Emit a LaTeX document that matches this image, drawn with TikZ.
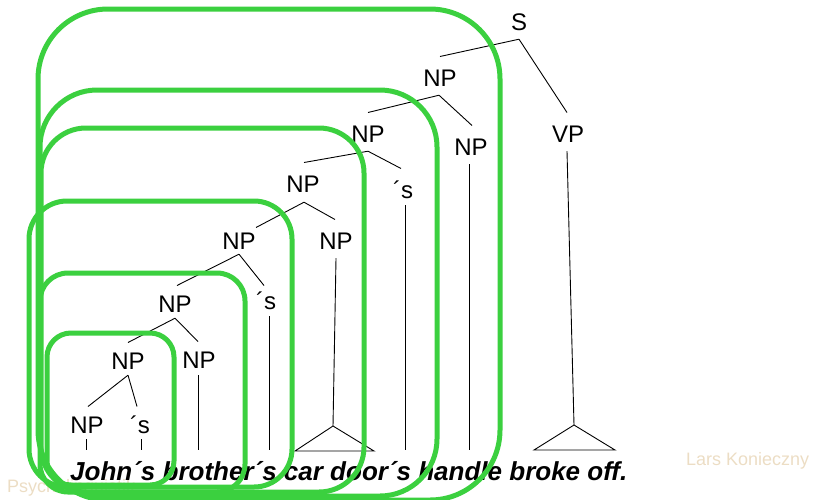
\documentclass[tikz,border=0pt]{standalone}
\usepackage{fontspec}
\setmainfont{Liberation Sans}
\newcommand\lblfont{\fontsize{24}{28}\selectfont}
\newcommand\sentfont{\fontsize{26}{30}\selectfont\bfseries\itshape}
\newcommand\markfont{\fontsize{18}{22}\selectfont}
\definecolor{boxgreen}{RGB}{59,208,63}
\definecolor{marktan}{RGB}{236,221,196}
\tikzset{
  lbl/.style={font=\lblfont, inner xsep=0pt, inner ysep=9pt, text height=17.3pt, text depth=0pt, anchor=base},
  branch/.style={draw=black, line width=0.9pt},
  gbox/.style={draw=boxgreen, line width=5pt},
  wmark/.style={font=\markfont, text=marktan, inner sep=0pt, anchor=base west}
}
\begin{document}
\begin{tikzpicture}[x=1pt,y=-1pt]
\useasboundingbox (0,0) rectangle (818,499);
% watermarks
\node[wmark] (psy) at (7,492) {Psycholinguistik};
\node[wmark] (lars) at (686,465) {Lars Konieczny};
% tree labels
\node[lbl] (S) at (519,30) {S};
\node[lbl] (NP1) at (440,86) {NP};
\node[lbl] (VP) at (568,142) {VP};
\node[lbl] (NP2) at (368,142) {NP};
\node[lbl] (NP3) at (471,155) {NP};
\node[lbl] (s2) at (403,198) {´s};
\node[lbl] (NP4) at (303,192) {NP};
\node[lbl] (NP5) at (239,249) {NP};
\node[lbl] (NP6) at (336,249) {NP};
\node[lbl] (s5) at (266,309) {´s};
\node[lbl] (NP7) at (175,312) {NP};
\node[lbl] (NP8) at (128,369) {NP};
\node[lbl] (NP9) at (199,368) {NP};
\node[lbl] (NP10) at (87,433) {NP};
\node[lbl] (s8) at (140,433) {´s};
% sentence
\node[font=\sentfont, inner sep=0pt, anchor=base west] (sent) at (70,480) {John´s brother´s car door´s handle broke off.};
% end coordinates
\coordinate (vpApex) at (574,425);
\coordinate (vpL) at (534,450);
\coordinate (vpR) at (615,450);
\coordinate (np6Apex) at (333,426);
\coordinate (np6L) at (295,451);
\coordinate (np6R) at (374,451);
\coordinate (np3end) at (469,450);
\coordinate (s2end) at (405,450);
\coordinate (s5end) at (269,450);
\coordinate (np9end) at (198,450);
\coordinate (np10end) at (86,450);
\coordinate (s8end) at (141,450);
% branches
\draw[branch] (S.south) -- ([yshift=3pt]NP1.north);
\draw[branch] (S.south) -- ([xshift=-1pt,yshift=3pt]VP.north);
\draw[branch] ([xshift=-1pt]NP1.south) -- ([yshift=3pt]NP2.north);
\draw[branch] ([xshift=-1pt]NP1.south) -- ([xshift=1pt,yshift=3pt]NP3.north);
\draw[branch] (NP2.south) -- ([xshift=1pt,yshift=3pt]NP4.north);
\draw[branch] (NP2.south) -- ([xshift=-2pt,yshift=3pt]s2.north);
\draw[branch] ([xshift=1pt,yshift=-1pt]NP4.south) -- ([xshift=17pt,yshift=-5pt]NP5.north);
\draw[branch] ([xshift=1pt,yshift=-1pt]NP4.south) -- ([xshift=-1pt,yshift=3pt]NP6.north);
\draw[branch] ([yshift=4pt]NP5.south) -- ([xshift=2pt]NP7.north);
\draw[branch] ([yshift=4pt]NP5.south) -- ([xshift=-2pt,yshift=-3pt]s5.north);
\draw[branch] ([yshift=3pt]NP7.south) -- (NP8.north);
\draw[branch] ([yshift=3pt]NP7.south) -- ([xshift=-1pt]NP9.north);
\draw[branch] ([yshift=3pt]NP8.south) -- ([xshift=1pt]NP10.north);
\draw[branch] ([yshift=3pt]NP8.south) -- ([xshift=-3pt]s8.north);
% vertical lines
\draw[branch] ([xshift=-1pt]VP.south) -- (vpApex);
\draw[branch, line join=miter] (vpL) -- (vpApex) -- (vpR) -- cycle;
\draw[branch] ([xshift=-2pt]NP3.south) -- (np3end);
\draw[branch] ([xshift=2pt,yshift=2pt]s2.south) -- (s2end);
\draw[branch] (NP6.south) -- (np6Apex);
\draw[branch, line join=miter] (np6L) -- (np6Apex) -- (np6R) -- cycle;
\draw[branch] ([xshift=3pt,yshift=2pt]s5.south) -- (s5end);
\draw[branch] ([xshift=-1pt,yshift=2pt]NP9.south) -- (np9end);
\draw[branch] ([xshift=-1pt,yshift=3pt]NP10.south) -- (np10end);
\draw[branch] ([xshift=1pt,yshift=3pt]s8.south) -- (s8end);
% green boxes
\draw[gbox, rounded corners=70pt] (38,9) rectangle (500,500);
\draw[gbox, rounded corners=57pt] (40,90) rectangle (437,496);
\draw[gbox, rounded corners=45pt] (41,128) rectangle (364,492);
\draw[gbox, rounded corners=38pt] (29,201) rectangle (292,487);
\draw[gbox, rounded corners=28pt] (40,273) rectangle (245,492);
\draw[gbox, rounded corners=24pt] (47,333) rectangle (174,485);
\end{tikzpicture}
\end{document}
